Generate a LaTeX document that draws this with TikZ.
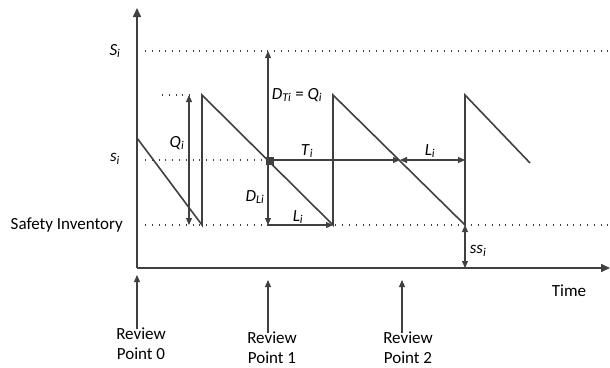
\documentclass[tikz,border=0pt]{standalone}
\usepackage{fontspec}
\setmainfont{Carlito}
\usetikzlibrary{arrows.meta,calc}
\definecolor{lc}{HTML}{404040}
\newcommand{\vs}[2]{\textit{#1}\textsubscript{\textit{#2}}}
\begin{document}
\begin{tikzpicture}[x=1pt,y=-1pt,
  axis/.style={draw=lc, line width=1.6pt},
  saw/.style={draw=lc, line width=1.6pt, line join=miter},
  dotl/.style={draw=lc, line width=1.1pt, dash pattern=on 1pt off 5.8pt},
  arr/.style={draw=lc, line width=1.1pt, -{Triangle[length=7pt,width=6pt]}},
  darr/.style={draw=lc, line width=1.1pt, {Triangle[length=7pt,width=6pt]}-{Triangle[length=7pt,width=6pt]}},
  lbl/.style={font=\fontsize{17}{20}\selectfont, inner sep=0pt, text=black},
]
\useasboundingbox (0,0) rectangle (610,367);
% axes
\coordinate (O) at (137,268);
\coordinate (ytop) at (137,8);
\coordinate (xend) at (610,268);
\draw[axis, -{Triangle[length=9pt,width=8pt]}] (O) -- (ytop);
\draw[axis, -{Triangle[length=9pt,width=8pt]}] (O) -- (xend);
% dotted levels
\coordinate (S1) at (145,51); \coordinate (S2) at (610,51);
\coordinate (s1) at (145,160); \coordinate (s2) at (265,160);
\coordinate (f1) at (145,225); \coordinate (f2) at (610,225);
\coordinate (q1) at (162,95); \coordinate (q2) at (190,95);
\draw[dotl] (S1) -- (S2);
\draw[dotl] (s1) -- (s2);
\draw[dotl] (f1) -- (f2);
\draw[dotl] (q1) -- (q2);
% sawtooth
\coordinate (p0) at (137,138);
\coordinate (p1) at (202,225);
\coordinate (p2) at (202,95);
\coordinate (p3) at (333,225);
\coordinate (p4) at (333,95);
\coordinate (p5) at (465,225);
\coordinate (p6) at (465,95);
\coordinate (p7) at (530,163);
\draw[saw] (p0) -- (p1) -- (p2) -- (p3) -- (p4) -- (p5) -- (p6) -- (p7);
% dimension arrows
\coordinate (qa) at (189,95); \coordinate (qb) at (189,225);
\draw[darr] (qa) -- (qb);
\coordinate (dt1) at (268,160); \coordinate (dt2) at (268,51);
\draw[arr] (dt1) -- (dt2);
\coordinate (dl1) at (268,160); \coordinate (dl2) at (268,225);
\draw[arr] (dl1) -- (dl2);
\coordinate (sq) at (270,161);
\fill[lc] ($(sq)+(-4,-4)$) rectangle ($(sq)+(4,4)$);
\coordinate (t1) at (268,160); \coordinate (t2) at (400,160);
\draw[arr] (t1) -- (t2);
\coordinate (la) at (400,160); \coordinate (lb) at (465,160);
\draw[darr] (la) -- (lb);
\coordinate (lc1) at (268,225); \coordinate (lc2) at (333,225);
\draw[arr] (lc1) -- (lc2);
\coordinate (ss1) at (465,225); \coordinate (ss2) at (465,268);
\draw[darr] (ss1) -- (ss2);
% labels
\node[lbl] (LS) at (115,51) {\vs{S}{i}};
\node[lbl] (Ls) at (115,159) {\vs{s}{i}};
\node[lbl, anchor=east] (LSI) at (123,225) {Safety Inventory};
\node[lbl] (LQ) at (177,143) {\vs{Q}{i}};
\node[lbl] (LDT) at (297,95) {\vs{D}{Ti} = \vs{Q}{i}};
\node[lbl] (LDL) at (255,197) {\vs{D}{Li}};
\node[lbl] (LT) at (307,151) {\vs{T}{i}};
\node[lbl] (LL1) at (430,151) {\vs{L}{i}};
\node[lbl] (LL2) at (298,217) {\vs{L}{i}};
\node[lbl] (Lss) at (478,251) {\vs{ss}{i}};
\node[lbl] (Ltime) at (569,291) {Time};
% review points
\node[lbl, align=center] (R0) at (141,344) {Review\\Point 0};
\node[lbl, align=center] (R1) at (272,348) {Review\\Point 1};
\node[lbl, align=center] (R2) at (408,348) {Review\\Point 2};
\coordinate (r0a) at (137,329); \coordinate (r0b) at (137,275);
\coordinate (r1a) at (268,333); \coordinate (r1b) at (268,280);
\coordinate (r2a) at (402,333); \coordinate (r2b) at (402,280);
\draw[arr] (r0a) -- (r0b);
\draw[arr] (r1a) -- (r1b);
\draw[arr] (r2a) -- (r2b);
\end{tikzpicture}
\end{document}
